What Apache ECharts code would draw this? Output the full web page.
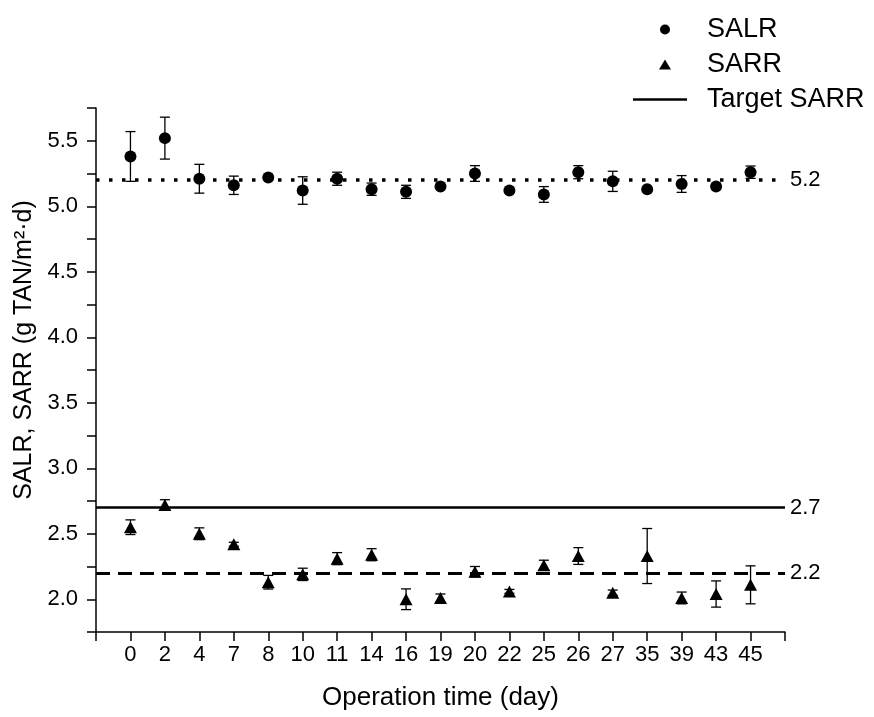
<!DOCTYPE html>
<html>
<head>
<meta charset="utf-8">
<script src="https://cdn.jsdelivr.net/npm/echarts@6/dist/echarts.min.js"></script>
<style>
  html, body { margin: 0; padding: 0; background: #fff; }
  #chart { width: 874px; height: 717px; }
</style>
</head>
<body>
<div id="chart"></div>
<script>
// operation days (x categories); blank slots pad each end of the axis
const days = ['0', '2', '4', '7', '8', '10', '11', '14', '16', '19', '20', '22', '25', '26', '27', '35', '39', '43', '45'];
const categories = [''].concat(days, ['']);

const salr = [5.38, 5.52, 5.21, 5.16, 5.22, 5.12, 5.21, 5.13, 5.11, 5.15, 5.25, 5.12, 5.09, 5.26, 5.19, 5.13, 5.17, 5.15, 5.26];
const salrErr = [0.19, 0.16, 0.11, 0.07, 0.01, 0.105, 0.05, 0.047, 0.05, 0.01, 0.06, 0.01, 0.06, 0.05, 0.077, 0.01, 0.064, 0.01, 0.047];

const sarr = [2.55, 2.72, 2.50, 2.42, 2.13, 2.19, 2.31, 2.34, 2.00, 2.01, 2.21, 2.06, 2.26, 2.33, 2.05, 2.33, 2.01, 2.04, 2.11];
const sarrErr = [0.056, 0.04, 0.045, 0.015, 0.052, 0.047, 0.046, 0.046, 0.079, 0.03, 0.04, 0.015, 0.038, 0.064, 0.02, 0.21, 0.045, 0.10, 0.145];

const salrRef = 5.2;
const sarrTarget = 2.7;
const sarrRef = 2.2;

const FONT = '"Liberation Sans", Arial, sans-serif';

function errorBars(vals, errs) {
  return vals.map((v, i) => [days[i], v, errs[i]]);
}

function renderErr(params, api) {
  const x = api.value(0);
  const y = api.value(1);
  const e = api.value(2);
  const top = api.coord([x, y + e]);
  const bot = api.coord([x, y - e]);
  const cap = 5;
  const style = { stroke: '#000', lineWidth: 1.3, fill: null };
  return {
    type: 'group',
    children: [
      { type: 'line', shape: { x1: top[0], y1: top[1], x2: bot[0], y2: bot[1] }, style },
      { type: 'line', shape: { x1: top[0] - cap, y1: top[1], x2: top[0] + cap, y2: top[1] }, style },
      { type: 'line', shape: { x1: bot[0] - cap, y1: bot[1], x2: bot[0] + cap, y2: bot[1] }, style }
    ]
  };
}

const chart = echarts.init(document.getElementById('chart'));

const legendText = { fontSize: 27, color: '#000', fontFamily: FONT };

chart.setOption({
  animation: false,
  textStyle: { fontFamily: FONT, color: '#000' },
  grid: { left: 96, right: 89, top: 108, bottom: 85 },
  legend: [
    {
      data: [{ name: 'SALR', icon: 'circle' }, { name: 'SARR', icon: 'triangle' }],
      orient: 'vertical',
      left: 654,
      top: 11,
      itemWidth: 12,
      itemHeight: 10,
      itemGap: 8,
      itemStyle: { color: '#000', opacity: 1 },
      textStyle: Object.assign({ padding: [0, 0, 0, 31] }, legendText)
    },
    {
      data: [{ name: 'Target SARR', icon: 'rect' }],
      left: 628,
      top: 81,
      itemWidth: 54,
      itemHeight: 2.5,
      itemStyle: { color: '#000' },
      textStyle: Object.assign({ padding: [0, 0, 0, 15] }, legendText)
    }
  ],
  xAxis: {
    type: 'category',
    data: categories,
    boundaryGap: false,
    name: 'Operation time (day)',
    nameLocation: 'middle',
    nameGap: 53,
    nameTextStyle: { fontSize: 26, color: '#000', fontFamily: FONT },
    axisLine: { lineStyle: { color: '#000', width: 1.5 } },
    axisTick: { length: 9, interval: 0, lineStyle: { color: '#000', width: 1.5 } },
    axisLabel: { interval: 0, fontSize: 22, color: '#000', margin: 12 },
    splitLine: { show: false }
  },
  yAxis: {
    type: 'value',
    min: 1.75,
    max: 5.75,
    interval: 0.25,
    name: 'SALR, SARR (g TAN/m²·d)',
    nameLocation: 'middle',
    nameGap: 58,
    nameTextStyle: { fontSize: 25, color: '#000', fontFamily: FONT, padding: [0, 0, 0, 40] },
    axisLine: { show: true, lineStyle: { color: '#000', width: 1.5 } },
    axisTick: { show: true, length: 9, lineStyle: { color: '#000', width: 1.5 } },
    axisLabel: {
      fontSize: 22,
      color: '#000',
      margin: 18,
      formatter: (v) => (Math.abs(v * 2 - Math.round(v * 2)) < 1e-6 ? v.toFixed(1) : '')
    },
    splitLine: { show: false }
  },
  series: [
    {
      name: 'SALR err',
      type: 'custom',
      renderItem: renderErr,
      data: errorBars(salr, salrErr),
      z: 2
    },
    {
      name: 'SARR err',
      type: 'custom',
      renderItem: renderErr,
      data: errorBars(sarr, sarrErr),
      z: 2
    },
    {
      name: 'SALR',
      type: 'scatter',
      symbol: 'circle',
      symbolSize: 12,
      itemStyle: { color: '#000', opacity: 1 },
      data: salr.map((v, i) => [days[i], v]),
      z: 3,
      markLine: {
        silent: true,
        symbol: 'none',
        lineStyle: { color: '#000', width: 3.5, type: [3.5, 9.5] },
        label: { position: 'end', fontSize: 22, color: '#000', fontFamily: FONT, formatter: String(salrRef) },
        data: [{ yAxis: salrRef }]
      }
    },
    {
      name: 'SARR',
      type: 'scatter',
      symbol: 'triangle',
      symbolSize: [13, 12],
      itemStyle: { color: '#000', opacity: 1 },
      data: sarr.map((v, i) => [days[i], v]),
      z: 3,
      markLine: {
        silent: true,
        symbol: 'none',
        lineStyle: { color: '#000', width: 3, type: [14, 8] },
        label: { position: 'end', fontSize: 22, color: '#000', fontFamily: FONT, formatter: String(sarrRef) },
        data: [{ yAxis: sarrRef }]
      }
    },
    {
      name: 'Target SARR',
      type: 'line',
      symbol: 'none',
      data: [],
      lineStyle: { color: '#000', width: 2.5 },
      itemStyle: { color: '#000' },
      markLine: {
        silent: true,
        symbol: 'none',
        lineStyle: { color: '#000', width: 2.7, type: 'solid' },
        label: { position: 'end', fontSize: 22, color: '#000', fontFamily: FONT, formatter: String(sarrTarget) },
        data: [{ yAxis: sarrTarget }]
      }
    }
  ]
});
</script>
</body>
</html>
